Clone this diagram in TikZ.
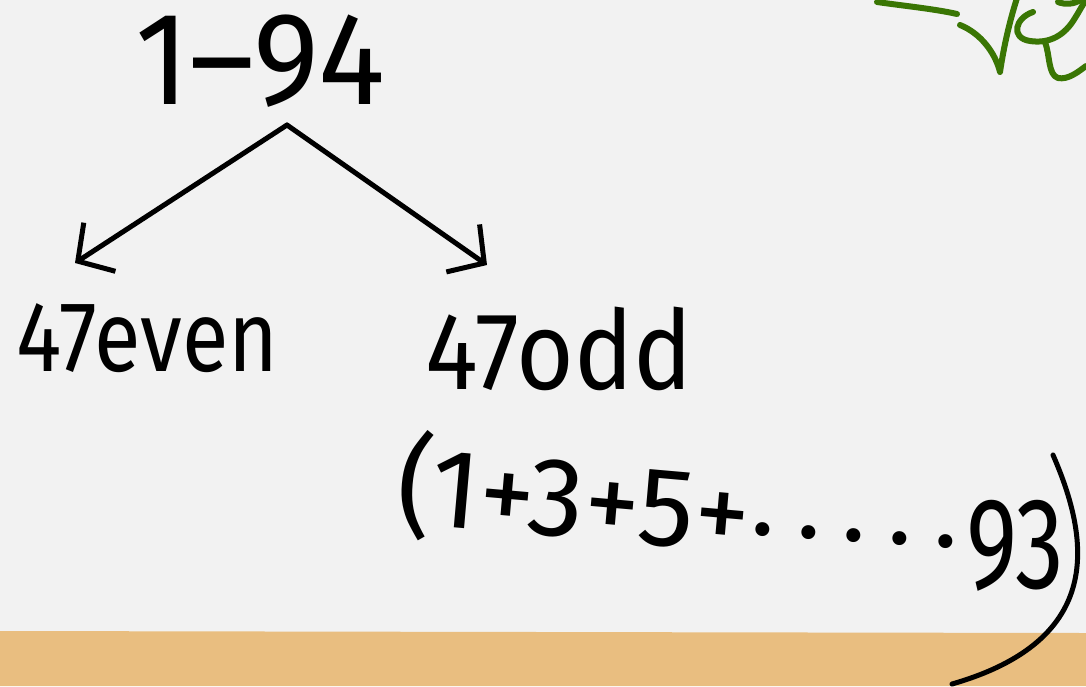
\documentclass[tikz,border=0pt]{standalone}
\usepackage{fontspec}
\setmainfont{Fira Sans}
\usetikzlibrary{arrows.meta}
\definecolor{paper}{RGB}{242,242,242}
\definecolor{sand}{RGB}{233,190,128}
\definecolor{leaf}{RGB}{58,118,4}
\newcommand{\hw}[1]{\fontsize{#1}{#1}\selectfont}
\begin{document}
\begin{tikzpicture}[x=1pt,y=-1pt,
  ink/.style={line width=5pt, line cap=round, line join=round, draw=black},
  arr/.style={ink, -{Straight Barb[length=26pt,width=58pt]}},
  hand/.style={inner sep=0pt, anchor=base west, text=black},
  scrib/.style={line width=6pt, line cap=round, line join=round, draw=leaf}]
  % page and the sand strip along the bottom
  \useasboundingbox (0,0) rectangle (1086,686);
  \fill[paper] (0,0) rectangle (1086,686);
  \fill[sand] (0,631) -- (1086,633) -- (1086,686) -- (0,686) -- cycle;

  % labels
  \node[hand, font=\hw{132}] (top) at (135,104) {\scalebox{0.95}[1]{1–94}};
  \node[hand, font=\hw{100}] (even) at (16,371) {\scalebox{0.85}[1]{47even}};
  \node[hand, font=\hw{110}] (odd) at (425,389) {\scalebox{0.9}[1]{47odd}};
  \node[hand, font=\hw{112}, rotate=-5] (sum) at (394,522) {(1+3+5+};
  \node[hand, font=\hw{100}, rotate=-4] (dots) at (750,534)
    {.\hspace{22pt}.\hspace{22pt}.\hspace{22pt}.\hspace{22pt}.};
  \node[hand, font=\hw{130}] (last) at (966,588) {\scalebox{0.75}[1]{93}};

  % closing bracket of the sum
  \draw[ink] ([shift={(87,-133)}]last.base west)
    .. controls ([shift={(124,-48)}]last.base west) and ([shift={(139,52)}]last.base west)
    .. ([shift={(-14,96)}]last.base west);

  % split of the range into evens and odds
  \draw[arr] ([shift={(152,21)}]top.base west) -- ([shift={(59,-108)}]even.base west);
  \draw[arr] ([shift={(152,21)}]top.base west) -- ([shift={(62,-124)}]odd.base west);

  % green note in the corner
  \draw[scrib] (877,2) .. controls (905,6) and (935,9) .. (957,14);
  \draw[scrib] (960,25) .. controls (980,33) and (995,52) .. (1000,72)
    .. controls (1004,45) and (1010,20) .. (1017,-2);
  \draw[scrib] (1033,12) .. controls (1015,18) and (1010,38) .. (1030,41)
    .. controls (1050,44) and (1065,35) .. (1075,18)
    .. controls (1080,10) and (1083,4) .. (1086,0);
  \draw[scrib] (1045,42) .. controls (1050,55) and (1048,75) .. (1058,78)
    .. controls (1068,80) and (1078,72) .. (1086,66);
  \draw[scrib] (1058,2) .. controls (1065,5) and (1075,4) .. (1080,0);
\end{tikzpicture}
\end{document}
